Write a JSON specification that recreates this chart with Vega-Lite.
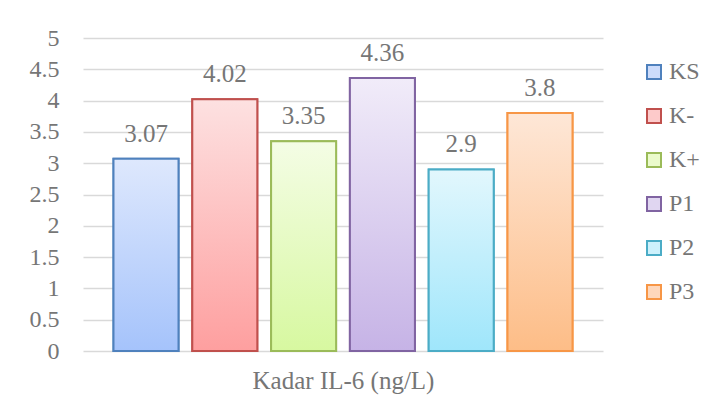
{
  "$schema": "https://vega.github.io/schema/vega-lite/v6.json",
  "autosize": {"type": "none"},
  "width": 520,
  "height": 313,
  "padding": {"left": 83, "top": 38, "right": 102, "bottom": 57},
  "background": "white",
  "config": {
    "font": "Liberation Serif",
    "view": {"stroke": null},
    "axis": {"labelColor": "#767676", "titleColor": "#767676", "labelFont": "Liberation Serif", "titleFont": "Liberation Serif"},
    "legend": {"labelColor": "#767676", "labelFont": "Liberation Serif"}
  },
  "data": {
    "values": [
      {"group": "KS", "value": 3.07},
      {"group": "K-", "value": 4.02},
      {"group": "K+", "value": 3.35},
      {"group": "P1", "value": 4.36},
      {"group": "P2", "value": 2.9},
      {"group": "P3", "value": 3.8}
    ]
  },
  "encoding": {
    "x": {
      "field": "group",
      "type": "nominal",
      "sort": null,
      "scale": {"domain": ["KS", "K-", "K+", "P1", "P2", "P3"], "paddingInner": 0.175, "paddingOuter": 0.387},
      "axis": {"title": "Kadar IL-6 (ng/L)", "labels": false, "ticks": false, "domain": false, "grid": false, "titleFontSize": 25, "titleFontWeight": "normal", "titlePadding": 37, "titleBaseline": "alphabetic"}
    },
    "y": {
      "field": "value",
      "type": "quantitative",
      "scale": {"domain": [0, 5], "nice": false},
      "axis": {"title": null, "values": [0, 0.5, 1, 1.5, 2, 2.5, 3, 3.5, 4, 4.5, 5], "format": "~g", "labelFontSize": 24, "labelPadding": 24, "ticks": false, "domain": false, "gridColor": "#d9d9d9", "gridWidth": 1.5}
    }
  },
  "layer": [
    {
      "mark": {"type": "bar", "strokeWidth": 2},
      "encoding": {
        "fill": {
          "field": "group",
          "type": "nominal",
          "scale": {
            "domain": ["KS", "K-", "K+", "P1", "P2", "P3"],
            "range": ["#cddcfb", "#fdcaca", "#ebfbcc", "#e0d6f1", "#cdf1fc", "#fed7bb"]
          },
          "legend": {
            "title": null,
            "orient": "none",
            "legendX": 559,
            "legendY": 22,
            "symbolType": "square",
            "symbolSize": 196,
            "symbolStrokeWidth": 2,
            "symbolOpacity": 1,
            "labelFontSize": 24,
            "labelOffset": 3,
            "rowPadding": 20,
            "padding": 0
          }
        },
        "stroke": {
          "field": "group",
          "type": "nominal",
          "scale": {
            "domain": ["KS", "K-", "K+", "P1", "P2", "P3"],
            "range": ["#4f81bd", "#c0504d", "#9bbb59", "#8064a2", "#4bacc6", "#f79646"]
          }
        }
      }
    },
    {
      "transform": [{"filter": "datum.group === 'KS'"}],
      "mark": {"type": "bar", "strokeWidth": 2, "stroke": "#4f81bd", "fill": {"gradient": "linear", "x1": 0, "y1": 0, "x2": 0, "y2": 1, "stops": [{"offset": 0, "color": "#dee8fd"}, {"offset": 1, "color": "#a5c3fb"}]}}
    },
    {
      "transform": [{"filter": "datum.group === 'K-'"}],
      "mark": {"type": "bar", "strokeWidth": 2, "stroke": "#c0504d", "fill": {"gradient": "linear", "x1": 0, "y1": 0, "x2": 0, "y2": 1, "stops": [{"offset": 0, "color": "#fde1e1"}, {"offset": 1, "color": "#fe9f9f"}]}}
    },
    {
      "transform": [{"filter": "datum.group === 'K+'"}],
      "mark": {"type": "bar", "strokeWidth": 2, "stroke": "#9bbb59", "fill": {"gradient": "linear", "x1": 0, "y1": 0, "x2": 0, "y2": 1, "stops": [{"offset": 0, "color": "#f4fde5"}, {"offset": 1, "color": "#d7f8a0"}]}}
    },
    {
      "transform": [{"filter": "datum.group === 'P1'"}],
      "mark": {"type": "bar", "strokeWidth": 2, "stroke": "#8064a2", "fill": {"gradient": "linear", "x1": 0, "y1": 0, "x2": 0, "y2": 1, "stops": [{"offset": 0, "color": "#f1ecf9"}, {"offset": 1, "color": "#c6b3e6"}]}}
    },
    {
      "transform": [{"filter": "datum.group === 'P2'"}],
      "mark": {"type": "bar", "strokeWidth": 2, "stroke": "#4bacc6", "fill": {"gradient": "linear", "x1": 0, "y1": 0, "x2": 0, "y2": 1, "stops": [{"offset": 0, "color": "#e2f7fd"}, {"offset": 1, "color": "#9fe6fb"}]}}
    },
    {
      "transform": [{"filter": "datum.group === 'P3'"}],
      "mark": {"type": "bar", "strokeWidth": 2, "stroke": "#f79646", "fill": {"gradient": "linear", "x1": 0, "y1": 0, "x2": 0, "y2": 1, "stops": [{"offset": 0, "color": "#fee7d7"}, {"offset": 1, "color": "#fdbd87"}]}}
    },
    {
      "mark": {"type": "text", "dy": -17, "baseline": "alphabetic", "fontSize": 25, "color": "#767676"},
      "encoding": {
        "text": {"field": "value", "type": "quantitative", "format": "~g"}
      }
    }
  ]
}
